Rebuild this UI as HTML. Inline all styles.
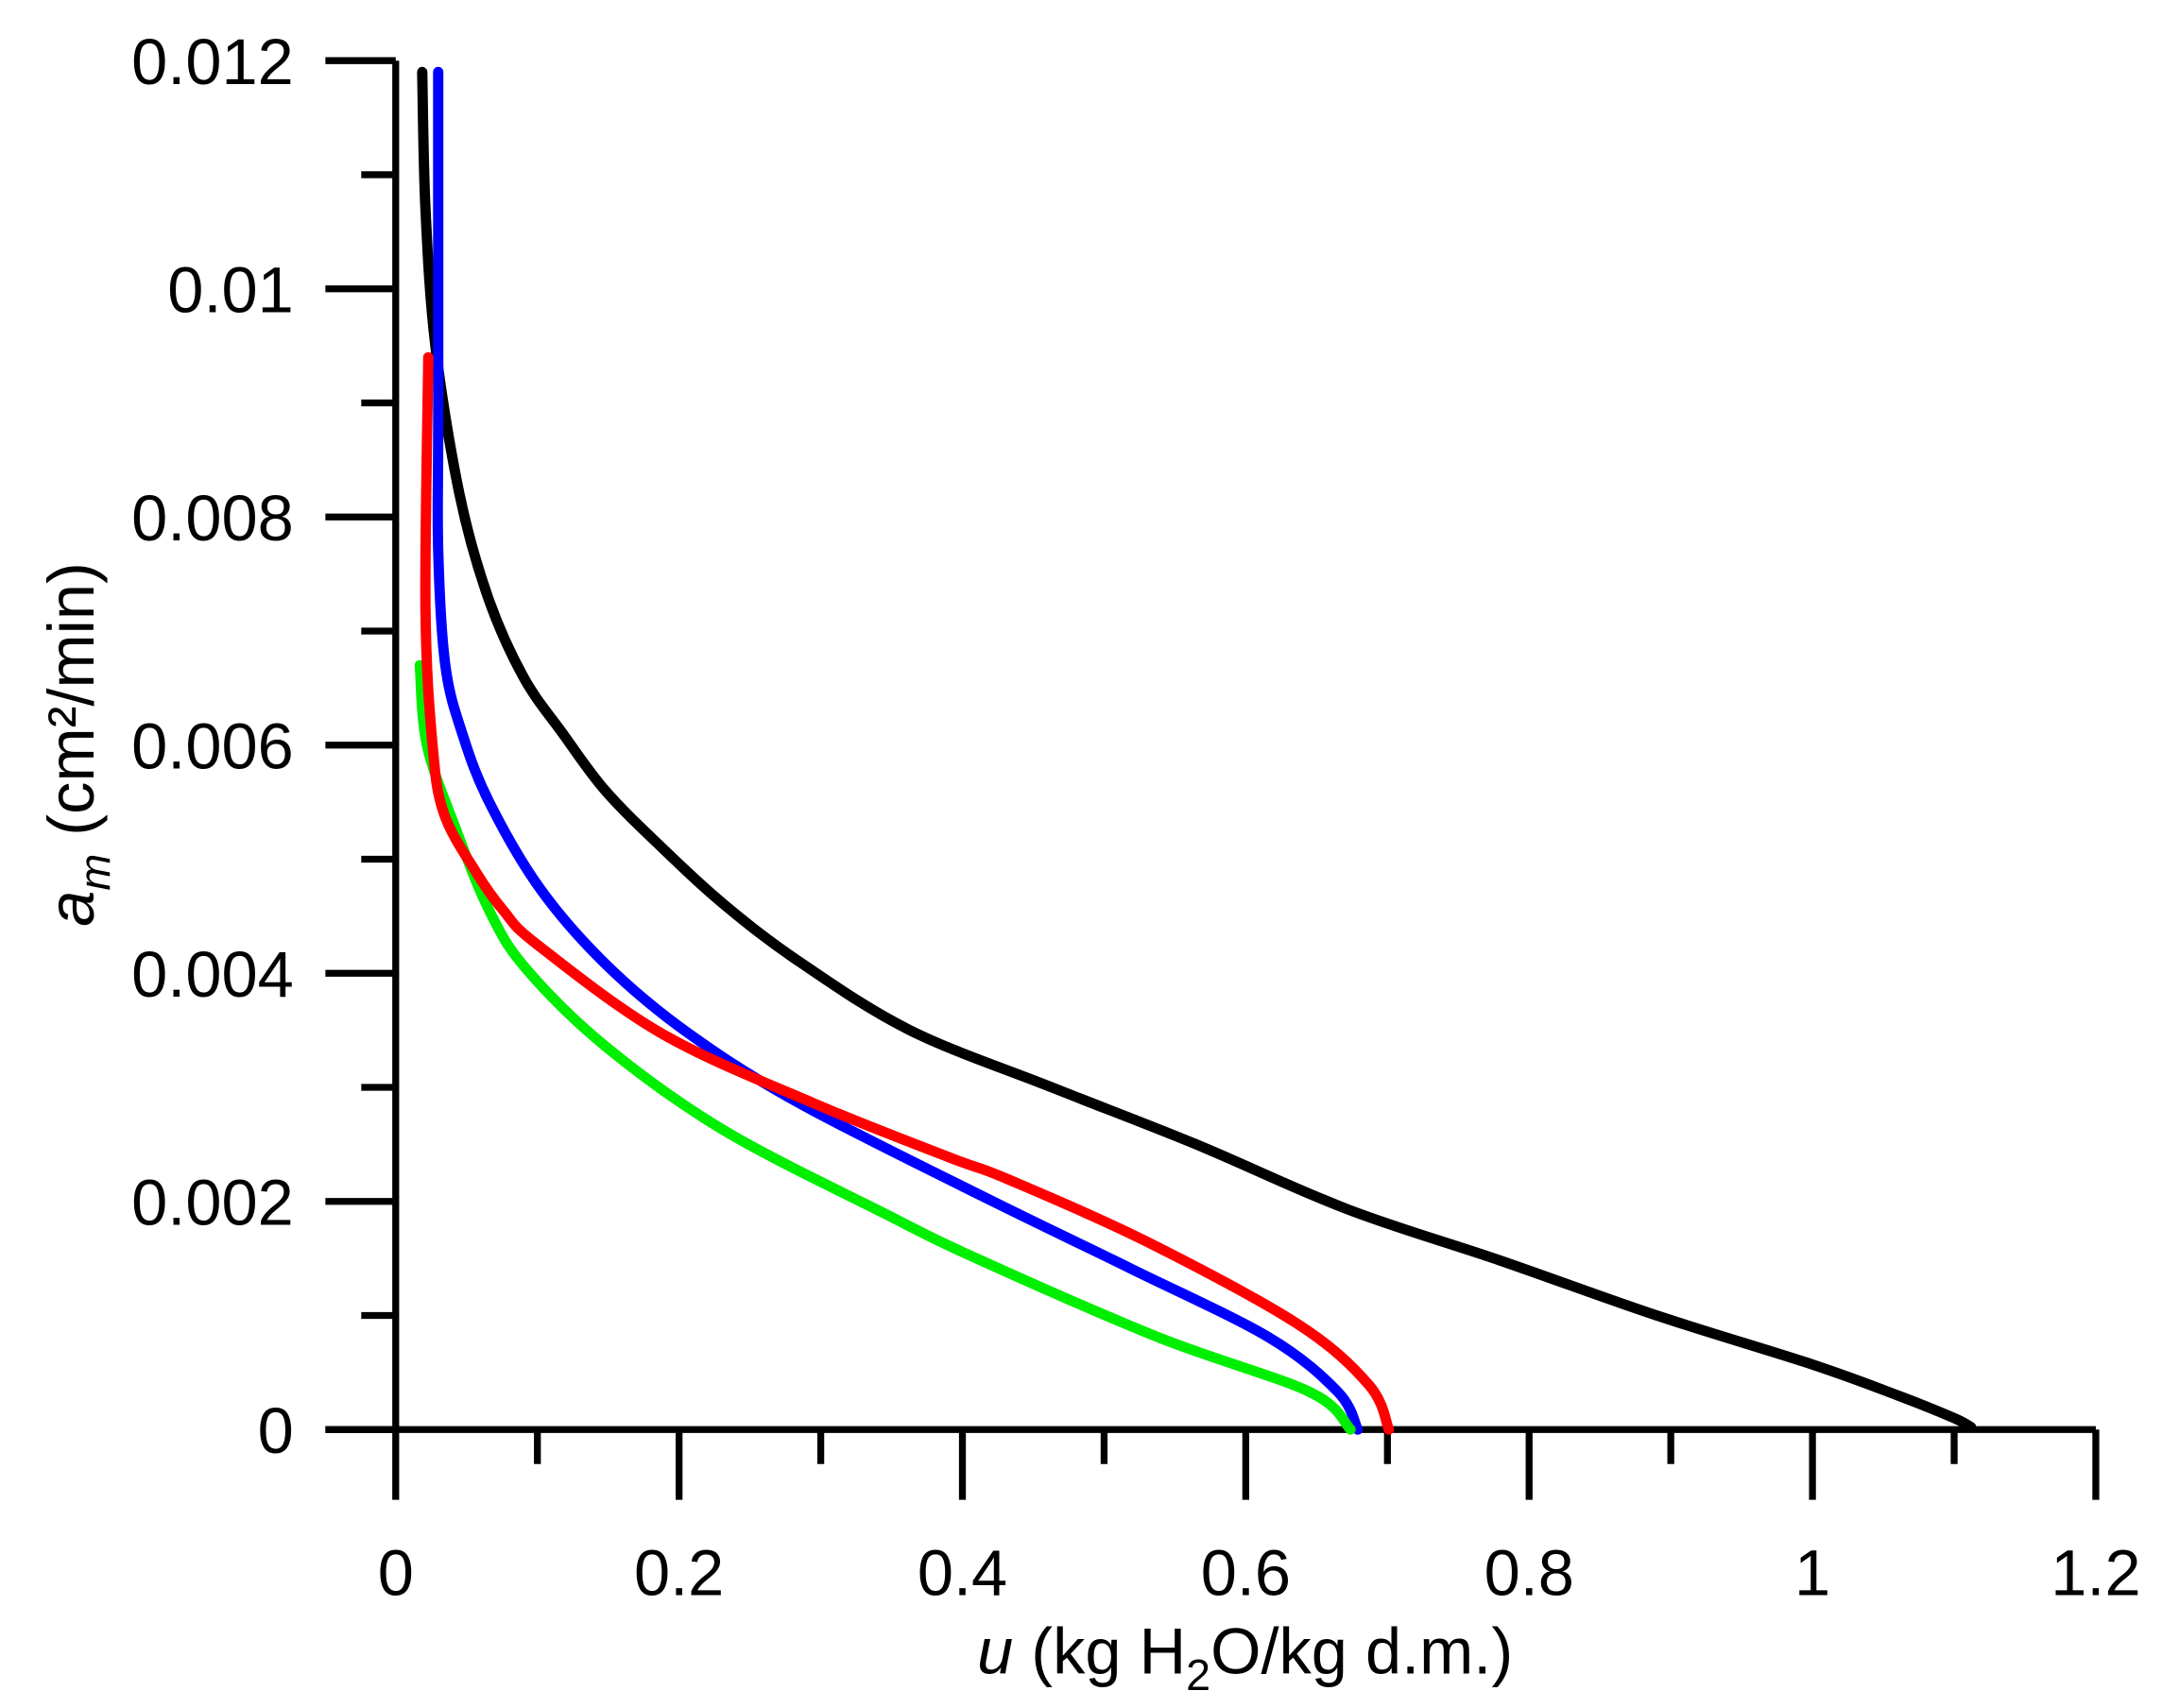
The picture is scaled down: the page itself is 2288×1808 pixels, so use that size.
<!DOCTYPE html>
<html><head><meta charset="utf-8"><style>html,body{margin:0;padding:0;background:#fff}svg{display:block}text{font-family:"Liberation Sans",sans-serif;fill:#000}</style></head>
<body>
<svg id="chart" width="2288" height="1808" viewBox="0 0 1568 1239" preserveAspectRatio="none" xmlns="http://www.w3.org/2000/svg">
<g id="axes"></g>
<g id="series"></g>
<text x="903" y="1214" font-size="47" text-anchor="middle"><tspan font-style="italic">u</tspan> (kg H<tspan font-size="32" dy="12">2</tspan><tspan dy="-12">O/kg d.m.)</tspan></text>
<text transform="translate(68,540) rotate(-90)" font-size="47" text-anchor="middle"><tspan font-style="italic">a</tspan><tspan font-style="italic" font-size="32" dy="12">m</tspan><tspan dy="-12"> (cm²/min)</tspan></text>
</svg>
<script>
const xTicks=[0,0.2,0.4,0.6,0.8,1,1.2];
const xTickLabels=["0","0.2","0.4","0.6","0.8","1","1.2"];
const yTicks=[0,0.002,0.004,0.006,0.008,0.01,0.012];
const yTickLabels=["0","0.002","0.004","0.006","0.008","0.01","0.012"];
const blackU=[0.0187,0.021,0.028,0.045,0.065,0.09,0.118,0.148,0.188,0.232,0.285,0.363,0.463,0.565,0.672,0.78,0.89,1.0,1.06,1.1,1.112];
const blackA=[0.0119,0.0107,0.0095,0.0082,0.0073,0.0066,0.0061,0.0056,0.0051,0.0046,0.0041,0.0035,0.003,0.0025,0.00193,0.00148,0.001,0.00057,0.0003,0.0001,0.00002];
const blueU=[0.03,0.03,0.030,0.035,0.047,0.066,0.102,0.149,0.207,0.285,0.415,0.519,0.616,0.665,0.679];
const blueA=[0.0119,0.0089,0.0077,0.0067,0.0061,0.0055,0.00474,0.00407,0.00347,0.00286,0.00204,0.00141,0.00081,0.00033,0];
const redU=[0.023,0.021,0.026,0.034,0.056,0.076,0.1,0.188,0.295,0.392,0.431,0.528,0.636,0.687,0.701];
const redA=[0.0094,0.0072,0.006,0.0054,0.0049,0.00455,0.00425,0.00347,0.00286,0.00238,0.0022,0.00166,0.00093,0.00039,0];
const greenU=[0.017,0.022,0.042,0.066,0.092,0.149,0.232,0.344,0.41,0.538,0.645,0.674];
const greenA=[0.0067,0.006,0.00528,0.00455,0.00404,0.00335,0.00262,0.0019,0.0015,0.00081,0.00033,0];
const X0=287,X1=1520,Y0=1037,Y1=44;
const sx=u=>X0+(u/1.2)*(X1-X0);
const sy=a=>Y0-(a/0.012)*(Y0-Y1);
const NS="http://www.w3.org/2000/svg";
const axes=document.getElementById('axes'),series=document.getElementById('series');
function line(x1,y1,x2,y2,name){const l=document.createElementNS(NS,'line');l.setAttribute('x1',x1);l.setAttribute('y1',y1);l.setAttribute('x2',x2);l.setAttribute('y2',y2);l.setAttribute('stroke','#000');l.setAttribute('stroke-width','5');


axes.appendChild(l);}
line(X0,Y1,X0,Y0+51,'y-axis-line');
line(236,Y0,X1,Y0,'x-axis-line');
for(let i=1;i<=12;i++){const x=sx(i*0.1);line(x,Y0,x,Y0+(i%2===0?51:25),'x-tick');}
for(let i=0;i<=12;i++){const y=sy(i*0.001);line(i%2===0?236:262,y,X0,y,'y-tick');}
xTicks.forEach((v,i)=>{const t=document.createElementNS(NS,'text');t.setAttribute('x',sx(v));t.setAttribute('y',1157);t.setAttribute('font-size','47');t.setAttribute('text-anchor','middle');t.textContent=xTickLabels[i];


axes.appendChild(t);});
yTicks.forEach((v,i)=>{const t=document.createElementNS(NS,'text');t.setAttribute('x',213);t.setAttribute('y',sy(v)+17);t.setAttribute('font-size','47');t.setAttribute('text-anchor','end');t.textContent=yTickLabels[i];


axes.appendChild(t);});
function curve(U,A,color,name){const p=document.createElementNS(NS,'path');
const pts=U.map((u,i)=>[sx(u),sy(A[i])]);
let d='M'+pts[0][0]+','+pts[0][1];
for(let i=1;i<pts.length;i++){const p0=pts[Math.max(i-2,0)],p1=pts[i-1],p2=pts[i],p3=pts[Math.min(i+1,pts.length-1)];
const c1=[p1[0]+(p2[0]-p0[0])/6,p1[1]+(p2[1]-p0[1])/6],c2=[p2[0]-(p3[0]-p1[0])/6,p2[1]-(p3[1]-p1[1])/6];
d+=` C${c1[0]},${c1[1]} ${c2[0]},${c2[1]} ${p2[0]},${p2[1]}`;}
p.setAttribute('d',d);p.setAttribute('fill','none');p.setAttribute('stroke',color);p.setAttribute('stroke-width','7.5');p.setAttribute('stroke-linejoin','round');p.setAttribute('stroke-linecap','round');


series.appendChild(p);}
curve(blackU,blackA,'#000','black-series');
curve(blueU,blueA,'#0000ff','blue-series');
curve(greenU,greenA,'#00ee00','green-series');
curve(redU,redA,'#ff0000','red-series');
</script>
</body></html>
